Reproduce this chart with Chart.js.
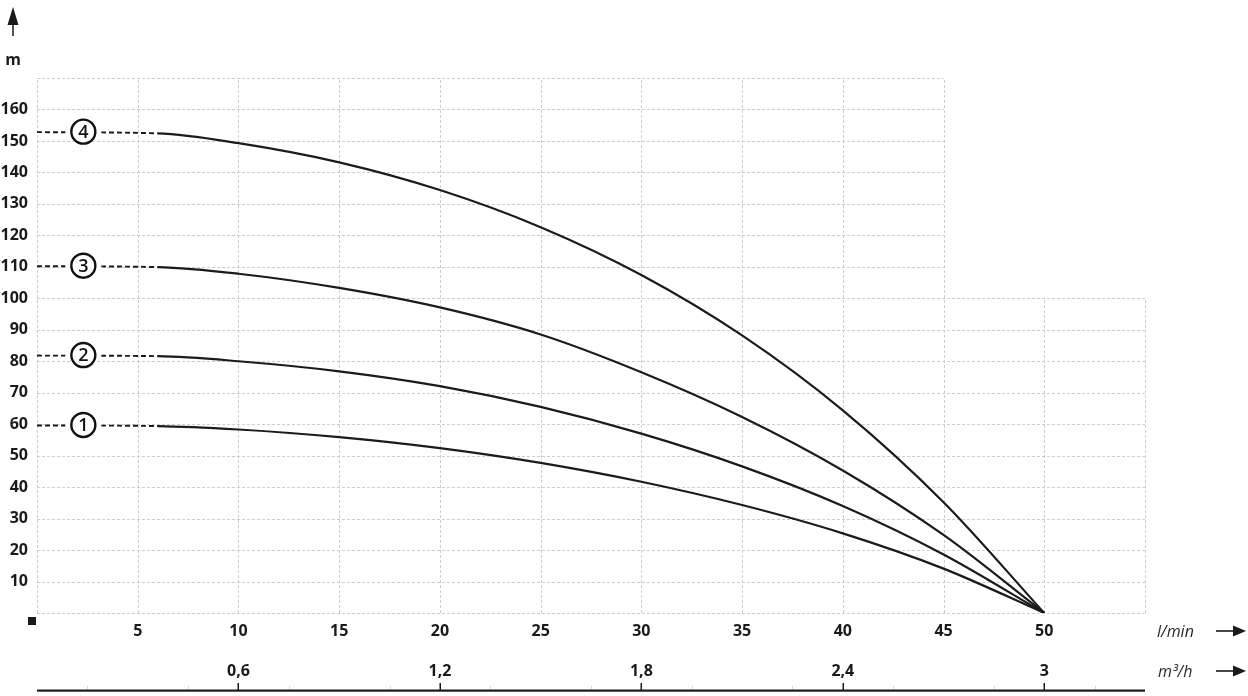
<!DOCTYPE html>
<html>
<head>
<meta charset="utf-8">
<script src="https://cdn.jsdelivr.net/npm/chart.js@4.4.1/dist/chart.umd.min.js"></script>
<style>
  html, body { margin: 0; padding: 0; background: #fff; }
</style>
</head>
<body>
<canvas id="chart" width="1248" height="696"></canvas>
<script>
const flowPoints = [0, 6, 10, 15, 20, 25, 30, 35, 40, 45, 50];

// head (m) for each pump curve
const curve1 = [59.6, 59.4, 58.3, 55.9, 52.4, 47.7, 41.7, 34.3, 25.3, 14.1, 0];
const curve2 = [81.8, 81.6, 80.0, 76.8, 72.1, 65.5, 57.0, 46.6, 34.0, 18.6, 0];
const curve3 = [110.2, 109.9, 107.8, 103.3, 97.1, 88.5, 76.5, 62.3, 45.3, 24.8, 0];
const curve4 = [152.8, 152.4, 149.3, 143.2, 134.4, 122.6, 107.4, 88.2, 64.4, 35.2, 0];

const curveNames = ["1", "2", "3", "4"];
const labelFlow = 2.3;

// axis ticks
const headTicks = [10, 20, 30, 40, 50, 60, 70, 80, 90, 100, 110, 120, 130, 140, 150, 160];
const flowTicks = [5, 10, 15, 20, 25, 30, 35, 40, 45, 50];
const cubicTicks = [0.6, 1.2, 1.8, 2.4, 3];

const lineColor = "#1b1b1b";
const gridColor = "#cdcdcd";

function toPoints(values) {
    return flowPoints.map(function (f, i) { return { x: f, y: values[i] }; });
}

function makeDataset(values) {
    return {
        data: toPoints(values),
        borderColor: lineColor,
        borderWidth: 2.2,
        pointRadius: 0,
        fill: false,
        cubicInterpolationMode: "monotone",
        segment: {
            borderDash: function (ctx) { return ctx.p0DataIndex === 0 ? [5, 3] : undefined; },
            borderWidth: function (ctx) { return ctx.p0DataIndex === 0 ? 1.9 : undefined; }
        }
    };
}

// dashed grid, upper right corner left empty
const gridPlugin = {
    id: "grid",
    beforeDatasetsDraw(chart) {
        const ctx = chart.ctx;
        const xs = chart.scales.x;
        const ys = chart.scales.y;
        ctx.save();
        ctx.strokeStyle = gridColor;
        ctx.lineWidth = 1;
        ctx.setLineDash([3, 2]);
        for (let v = 0; v <= 55; v += 5) {
            const top = v <= 45 ? 170 : 100;
            const px = Math.round(xs.getPixelForValue(v)) + 0.5;
            ctx.beginPath();
            ctx.moveTo(px, ys.getPixelForValue(0));
            ctx.lineTo(px, ys.getPixelForValue(top));
            ctx.stroke();
        }
        for (let h = 0; h <= 170; h += 10) {
            const right = h <= 100 ? 55 : 45;
            const py = Math.round(ys.getPixelForValue(h)) + 0.5;
            ctx.beginPath();
            ctx.moveTo(xs.getPixelForValue(0), py);
            ctx.lineTo(xs.getPixelForValue(right), py);
            ctx.stroke();
        }
        ctx.restore();
    }
};

function drawArrowRight(ctx, x0, x1, y) {
    ctx.beginPath();
    ctx.lineWidth = 1.6;
    ctx.moveTo(x0, y);
    ctx.lineTo(x1 - 8, y);
    ctx.stroke();
    ctx.beginPath();
    ctx.moveTo(x1, y);
    ctx.lineTo(x1 - 13, y - 5.5);
    ctx.lineTo(x1 - 13, y + 5.5);
    ctx.closePath();
    ctx.fill();
}

// curve numbers, axis captions, second flow axis
const extrasPlugin = {
    id: "extras",
    afterDatasetsDraw(chart) {
        const ctx = chart.ctx;
        const xs = chart.scales.x;
        const ys = chart.scales.y;
        const starts = [curve1[0], curve2[0], curve3[0], curve4[0]];
        ctx.save();
        starts.forEach(function (h, i) {
            const cx = xs.getPixelForValue(labelFlow);
            const cy = ys.getPixelForValue(h) - 0.5;
            ctx.fillStyle = "#fff";
            ctx.fillRect(cx - 18, cy - 3, 36, 6);
            ctx.beginPath();
            ctx.arc(cx, cy, 12, 0, Math.PI * 2);
            ctx.fill();
            ctx.strokeStyle = "#111";
            ctx.lineWidth = 2.4;
            ctx.stroke();
            ctx.fillStyle = "#111";
            ctx.font = "600 18px 'Open Sans'";
            ctx.textAlign = "center";
            ctx.textBaseline = "middle";
            ctx.fillText(curveNames[i], cx, cy + 1);
        });
        ctx.restore();
    },
    afterDraw(chart) {
        const ctx = chart.ctx;
        const xs = chart.scales.x;
        ctx.save();
        ctx.fillStyle = "#1a1a1a";
        ctx.strokeStyle = "#1a1a1a";

        // y caption and arrow
        ctx.font = "bold 16px 'Open Sans'";
        ctx.textAlign = "center";
        ctx.textBaseline = "middle";
        ctx.fillText("m", 13, 60);
        ctx.lineWidth = 1.5;
        ctx.beginPath();
        ctx.moveTo(13, 36);
        ctx.lineTo(13, 20);
        ctx.stroke();
        ctx.beginPath();
        ctx.moveTo(13, 7);
        ctx.lineTo(7.5, 25);
        ctx.lineTo(18.5, 25);
        ctx.closePath();
        ctx.fill();

        // origin marker
        ctx.fillRect(28, 617, 8, 8);

        // unit captions
        ctx.font = "italic 16px 'Open Sans'";
        ctx.textAlign = "left";
        ctx.fillStyle = "#2a2a2a";
        ctx.fillText("l/min", 1157, 632);
        ctx.fillText("m\u00b3/h", 1158, 672);
        ctx.fillStyle = "#1a1a1a";
        drawArrowRight(ctx, 1216, 1246, 631);
        drawArrowRight(ctx, 1216, 1246, 671);

        // m3/h labels, positioned on the l/min scale
        ctx.font = "bold 16px 'Open Sans'";
        ctx.textAlign = "center";
        cubicTicks.forEach(function (q) {
            const px = xs.getPixelForValue(q * 1000 / 60);
            ctx.fillText(String(q).replace(".", ","), px, 671);
            ctx.fillRect(Math.round(px) - 0.5, 683, 1.5, 7);
        });

        // bottom rule
        ctx.fillRect(xs.getPixelForValue(0), 689.5, xs.getPixelForValue(55) - xs.getPixelForValue(0), 2.2);
        ctx.fillStyle = "#d8d8d8";
        for (let v = 2.5; v < 55; v += 5) {
            ctx.fillRect(Math.round(xs.getPixelForValue(v)), 686, 1, 3);
        }
        ctx.restore();
    }
};

const chart = new Chart(document.getElementById("chart"), {
    type: "line",
    data: {
        datasets: [makeDataset(curve1), makeDataset(curve2), makeDataset(curve3), makeDataset(curve4)]
    },
    options: {
        responsive: false,
        animation: false,
        layout: { padding: { top: 78, right: 103, left: 0, bottom: 0 } },
        plugins: { legend: { display: false }, tooltip: { enabled: false } },
        scales: {
            x: {
                type: "linear",
                min: 0,
                max: 55,
                grid: { display: false, drawTicks: false },
                border: { display: false },
                afterFit: function (scale) { scale.height = 83; },
                afterBuildTicks: function (scale) {
                    scale.ticks = flowTicks.map(function (v) { return { value: v }; });
                },
                ticks: {
                    autoSkip: false,
                    maxRotation: 0,
                    padding: 9,
                    color: "#1a1a1a",
                    font: { family: "'Open Sans'", size: 16, weight: "bold" }
                }
            },
            y: {
                type: "linear",
                min: 0,
                max: 170,
                grid: { display: false, drawTicks: false },
                border: { display: false },
                afterFit: function (scale) { scale.width = 37; },
                afterBuildTicks: function (scale) {
                    scale.ticks = headTicks.map(function (v) { return { value: v }; });
                },
                ticks: {
                    autoSkip: false,
                    padding: 9,
                    color: "#1a1a1a",
                    font: { family: "'Open Sans'", size: 16, weight: "bold" }
                }
            }
        }
    },
    plugins: [gridPlugin, extrasPlugin]
});
</script>
</body>
</html>
